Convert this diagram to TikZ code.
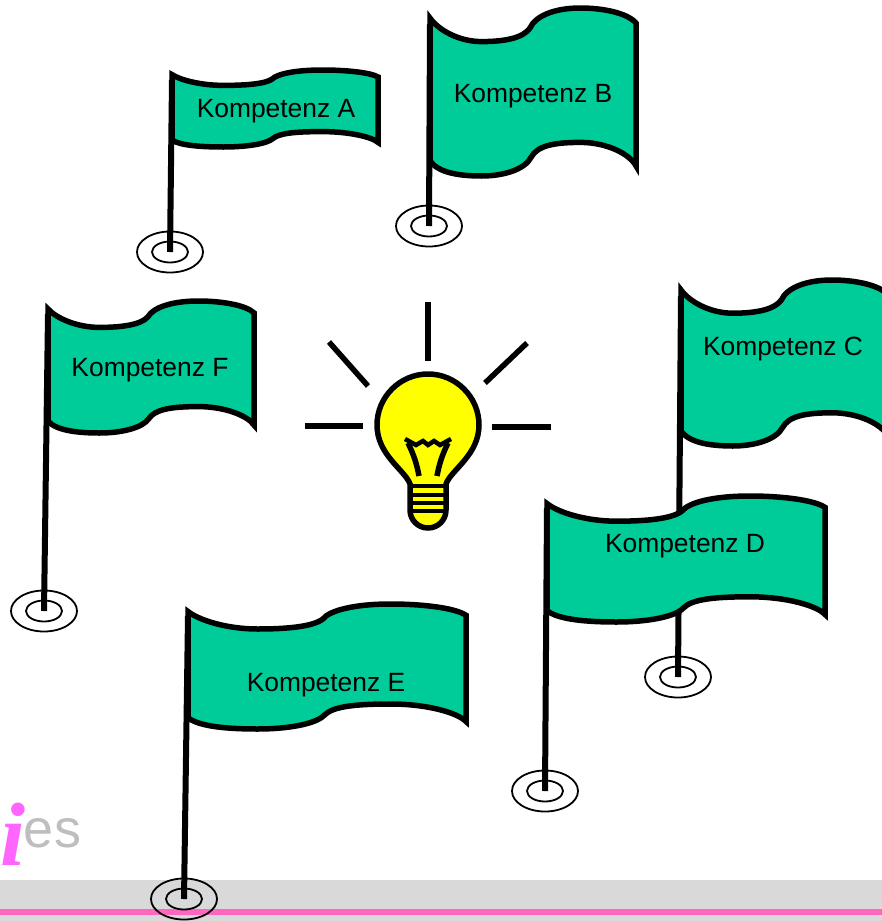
\documentclass[tikz,border=0pt]{standalone}
\usepackage{fontspec}
\setmainfont{Liberation Sans}
\newfontfamily\logoserif{Liberation Serif}
\definecolor{flaggreen}{RGB}{0, 204, 153}
\definecolor{bulbyellow}{RGB}{255, 255, 0}
\definecolor{footgray}{RGB}{217, 217, 217}
\definecolor{footpink}{RGB}{255, 102, 192}
\definecolor{logopink}{RGB}{255, 102, 255}
\definecolor{logogray}{RGB}{190, 190, 190}
\newcommand{\flagoutline}{(0,.06) .. controls (.04,.13) and (.14,.20) .. (.25,.20)
  .. controls (.36,.20) and (.45,.18) .. (.485,.12) .. controls (.51,.05) and (.60,0) .. (.73,0)
  .. controls (.84,0) and (.96,.03) .. (1,.09) -- (1,.94)
  .. controls (.97,.87) and (.86,.80) .. (.73,.80) .. controls (.60,.80) and (.52,.82) .. (.49,.89)
  .. controls (.46,.96) and (.36,1) .. (.25,1) .. controls (.14,1) and (.04,.98) .. (0,.91) -- cycle}
\tikzset{
  flagcloth/.style={draw=black, fill=flaggreen, line width=5.5pt, miter limit=10},
  flagpole/.style={draw=black, line width=6pt},
  polering/.style={draw=black, line width=1.8pt},
  komplabel/.style={font=\fontsize{26.4}{30}\selectfont, text=black, inner sep=0pt},
  bulbline/.style={draw=black, line width=5.5pt}
}
\begin{document}
\begin{tikzpicture}[x=1pt, y=-1pt]
  \clip (0,0) rectangle (882,921);

  % Footer band
  \fill[footgray] (0,880) rectangle (882,921);
  \fill[footpink] (0,909) rectangle (882,915);

  % Logo
  \node[inner sep=0pt, text=logogray, font=\fontsize{54}{54}\selectfont] (logoes) at (52.5,833) {es};
  \node[inner sep=0pt, text=logopink, font=\fontsize{90}{90}\logoserif\bfseries\itshape] (logoi) at (13.5,834) {i};

  % Flags: letter / cloth corners / pole top / pole foot / label
  \foreach \nm/\xa/\ya/\xb/\yb/\xp/\yp/\xq/\yq/\xt/\yt in {
    A/172/70/378/147/172/80/170/252/276/111,
    B/430/8/636/176/430/24/429/226/533/96,
    C/681/280/888/446/681/296/678/677/783/349,
    D/547/496/825/622/547/508/545/791/685/546,
    E/188/604/466/729/188/616/184/899/326/685,
    F/48/301/254/433/48/314/44/611/150/370} {
    \draw[polering] (\xq,\yq) ellipse [x radius=33, y radius=20.5];
    \draw[polering] (\xq,\yq) ellipse [x radius=18, y radius=10.5];
    \draw[flagpole] (\xp,\yp) -- (\xq,\yq);
    \pgfmathsetmacro{\flagw}{\xb-\xa}
    \pgfmathsetmacro{\flagh}{\yb-\ya}
    \begin{scope}[shift={(\xa,\ya)}, xscale=\flagw, yscale=\flagh]
      \draw[flagcloth] \flagoutline;
    \end{scope}
    \node[komplabel] (komp\nm) at (\xt,\yt) {Kompetenz \nm};
  }

  % Light rays
  \foreach \xa/\ya/\xb/\yb in {428/302/428/361, 305/426/363/426, 492/427/551/427, 329/342/368/386, 527/343/485/383}
    \draw[bulbline] (\xa,\ya) -- (\xb,\yb);

  % Bulb
  \draw[bulbline, fill=bulbyellow] (377,425) .. controls (377,397) and (400,374) .. (428,374)
    .. controls (456,374) and (479,397) .. (479,425) .. controls (479,455) and (451,470) .. (446,484)
    -- (446,510) .. controls (446,520) and (438,528) .. (428,528)
    .. controls (418,528) and (410,520) .. (410,510) -- (410,484)
    .. controls (405,470) and (377,455) .. (377,425) -- cycle;

  % Screw thread
  \foreach \y in {486,495,503,511}
    \draw[black, line width=4pt] (410,\y) -- (446,\y);

  % Filament
  \draw[black, line width=4.5pt, miter limit=10] (405,439) -- (416,445) -- (423,441) -- (428,445) -- (434,441) -- (440,445) -- (451,439);
  \draw[black, line width=5.5pt] (408,443) .. controls (414,455) and (417,465) .. (419,476);
  \draw[black, line width=5.5pt] (448,443) .. controls (442,455) and (439,465) .. (437,476);
\end{tikzpicture}
\end{document}
